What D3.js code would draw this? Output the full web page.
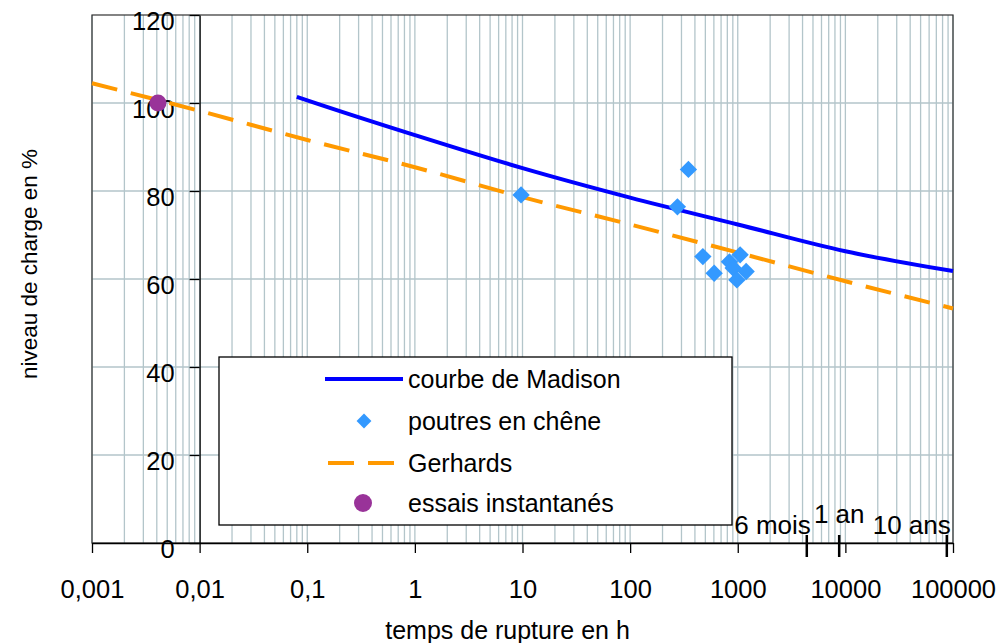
<!DOCTYPE html>
<html>
<head>
<meta charset="utf-8">
<script src="https://cdn.jsdelivr.net/npm/d3@7"></script>
<style>
  body { margin: 0; background: #fff; }
  svg text { font-family: "Liberation Sans", Arial, sans-serif; fill: #000; }
</style>
</head>
<body>
<div id="chart-area"></div>
<script>
// data
var xTicks = [0.001, 0.01, 0.1, 1, 10, 100, 1000, 10000, 100000];
var xTickLabels = ['0,001', '0,01', '0,1', '1', '10', '100', '1000', '10000', '100000'];
var yTicks = [0, 20, 40, 60, 80, 100, 120];

var madisonT = [0.08, 0.1, 1, 10, 100, 1000, 10000, 100000];
var madisonV = [101.4, 100.6, 92.7, 85.2, 78.5, 72.4, 66.3, 61.8];

var gerhardsT = [0.001, 0.01, 0.1, 1, 10, 100, 1000, 10000, 100000];
var gerhardsV = [104.5, 98.2, 91.6, 85.4, 78.6, 72.4, 66.0, 59.5, 53.3];

var oakT = [9.7, 275, 348, 474, 604, 837, 906, 982, 1052, 1197];
var oakV = [79.1, 76.4, 84.9, 65.1, 61.3, 63.9, 62.5, 59.8, 65.5, 61.7];

var instantT = [0.0041];
var instantV = [100];

var markerT = [4380, 8760, 87600];
var markerLabels = ['6 mois', '1 an', '10 ans'];
var markerAnchor = ['end', 'middle', 'end'];

var legendLabels = ['courbe de Madison', 'poutres en chêne', 'Gerhards', 'essais instantanés'];

var W = 997, H = 643;
var svg = d3.select('#chart-area').append('svg')
      .attr('width', W)
      .attr('height', H);

var x = d3.scaleLog().domain([0.001, 100000]).range([92, 953]);
var y = d3.scaleLinear().domain([0, 120]).range([543, 15]);

// grid
var minor = [];
xTicks.slice(0, -1).forEach(d => { for (var k = 1; k <= 9; k++) minor.push(d * k); });
minor.push(100000);
var grid = svg.append('g');
grid.selectAll('line.v').data(minor).enter().append('line')
    .attr('x1', d => x(d)).attr('x2', d => x(d))
    .attr('y1', y(0)).attr('y2', y(120))
    .attr('stroke', '#b3c5ca').attr('stroke-width', 1.3);
grid.selectAll('line.h').data(yTicks.slice(1, -1)).enter().append('line')
    .attr('x1', x(0.001)).attr('x2', x(100000))
    .attr('y1', d => y(d)).attr('y2', d => y(d))
    .attr('stroke', '#b3c5ca').attr('stroke-width', 1.3);

// frame
svg.append('rect')
    .attr('x', x(0.001)).attr('y', y(120))
    .attr('width', x(100000) - x(0.001)).attr('height', y(0) - y(120))
    .attr('fill', 'none').attr('stroke', '#333').attr('stroke-width', 1.2);

// x axis
var xAxis = svg.append('g')
    .attr('transform', `translate(0, ${y(0)})`)
    .call(d3.axisBottom(x).tickValues(xTicks).tickSize(10).tickSizeOuter(0).tickPadding(27)
      .tickFormat((d, i) => xTickLabels[i]));
xAxis.select('.domain').attr('stroke', '#000').attr('stroke-width', 1.3);
xAxis.selectAll('.tick line').attr('stroke', '#000').attr('stroke-width', 1.3);
xAxis.selectAll('text').attr('font-size', '25.5px');

// y axis sits on 0.01
var yAxis = svg.append('g')
    .attr('transform', `translate(${x(0.01)}, 0)`)
    .call(d3.axisLeft(y).tickValues(yTicks).tickSize(10).tickSizeOuter(0).tickPadding(15));
yAxis.select('.domain').attr('stroke', '#000').attr('stroke-width', 1.3);
yAxis.selectAll('.tick line').attr('stroke', '#000').attr('stroke-width', 1.3);
yAxis.selectAll('text').attr('font-size', '25.5px').attr('dy', '0.55em');

// axis titles
svg.append('text')
    .attr('x', (x(0.001) + x(100000)) / 2 - 15).attr('y', 639)
    .attr('font-size', '25px').attr('text-anchor', 'middle')
    .text('temps de rupture en h');
svg.append('text')
    .attr('transform', 'rotate(-90)')
    .attr('x', -264).attr('y', 37)
    .attr('font-size', '22.5px').attr('text-anchor', 'middle')
    .text('niveau de charge en %');

// series
var gerhards = gerhardsT.map((t, i) => [t, gerhardsV[i]]);
svg.append('path')
    .datum(gerhards)
    .attr('d', d3.line().x(d => x(d[0])).y(d => y(d[1])).curve(d3.curveMonotoneX))
    .attr('fill', 'none').attr('stroke', '#ff9900').attr('stroke-width', 4)
    .attr('stroke-dasharray', '26,14');

var madison = madisonT.map((t, i) => [t, madisonV[i]]);
svg.append('path')
    .datum(madison)
    .attr('d', d3.line().x(d => x(d[0])).y(d => y(d[1])).curve(d3.curveMonotoneX))
    .attr('fill', 'none').attr('stroke', '#0000ff').attr('stroke-width', 4);

var diamond = d3.symbol().type(d3.symbolSquare).size(150);
svg.selectAll('.oak').data(oakT).enter().append('path')
    .attr('class', 'oak')
    .attr('d', diamond)
    .attr('transform', (d, i) => `translate(${x(d)}, ${y(oakV[i])}) rotate(45)`)
    .attr('fill', '#3399ff');

svg.selectAll('.inst').data(instantT).enter().append('circle')
    .attr('class', 'inst')
    .attr('cx', d => x(d)).attr('cy', (d, i) => y(instantV[i]))
    .attr('r', 8.5).attr('fill', '#993399');

// time markers
var marks = svg.append('g');
marks.selectAll('line').data(markerT).enter().append('line')
    .attr('x1', d => x(d)).attr('x2', d => x(d))
    .attr('y1', 535).attr('y2', 557)
    .attr('stroke', '#000').attr('stroke-width', 2.5);
marks.selectAll('text').data(markerT).enter().append('text')
    .attr('x', (d, i) => markerAnchor[i] == 'end' ? x(d) + 4 : x(d))
    .attr('y', (d, i) => i == 1 ? 523 : 534)
    .attr('text-anchor', (d, i) => markerAnchor[i])
    .attr('font-size', '26px')
    .text((d, i) => markerLabels[i]);

// legend
var lg = svg.append('g');
lg.append('rect')
    .attr('x', 219).attr('y', 357).attr('width', 513).attr('height', 168)
    .attr('fill', '#fff').attr('stroke', '#000').attr('stroke-width', 1.3);
var rowY = [379, 421, 463, 503];
lg.append('line').attr('x1', 325).attr('x2', 403).attr('y1', rowY[0]).attr('y2', rowY[0])
    .attr('stroke', '#0000ff').attr('stroke-width', 4);
lg.append('path').attr('d', d3.symbol().type(d3.symbolSquare).size(110))
    .attr('transform', `translate(364, ${rowY[1]}) rotate(45)`).attr('fill', '#3399ff');
lg.append('line').attr('x1', 328).attr('x2', 394).attr('y1', rowY[2]).attr('y2', rowY[2])
    .attr('stroke', '#ff9900').attr('stroke-width', 4).attr('stroke-dasharray', '26,14');
lg.append('circle').attr('cx', 363).attr('cy', rowY[3]).attr('r', 9).attr('fill', '#993399');
lg.selectAll('text').data(legendLabels).enter().append('text')
    .attr('x', 408).attr('y', (d, i) => rowY[i] + 9)
    .attr('font-size', '25px')
    .text(d => d);
</script>
</body>
</html>
